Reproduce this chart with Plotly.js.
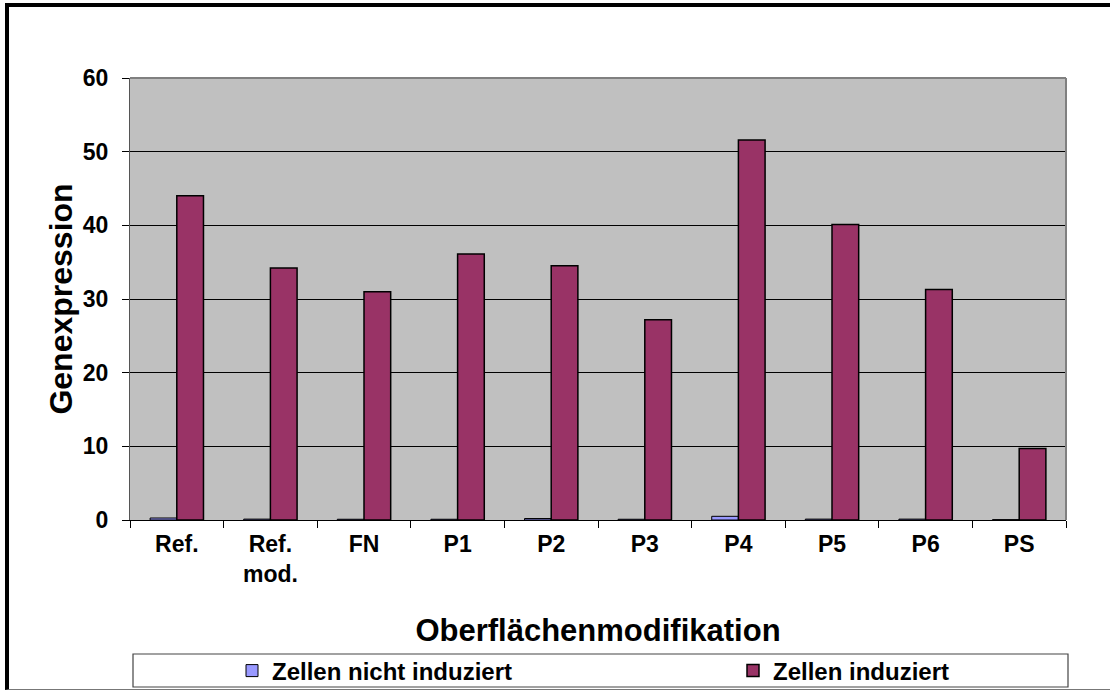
<!DOCTYPE html>
<html>
<head>
<meta charset="utf-8">
<script src="https://cdn.plot.ly/plotly-3.0.1.min.js"></script>
<style>
html,body{margin:0;padding:0;background:#fff;}
#wrap{position:relative;width:1110px;height:691px;overflow:hidden;}
#chart{position:absolute;left:0;top:0;width:1110px;height:691px;}
#frame{position:absolute;left:5px;top:3px;width:1200px;height:687px;border-left:4px solid #000;border-top:4px solid #000;border-bottom:1px solid #777;pointer-events:none;box-sizing:border-box;}
</style>
</head>
<body>
<div id="wrap">
<div id="chart"></div>
<div id="frame"></div>
</div>
<script>
var categories = ["Ref.", "Ref.<br>mod.", "FN", "P1", "P2", "P3", "P4", "P5", "P6", "PS"];
var nichtInduziert = [0.27, 0.12, 0.1, 0.1, 0.2, 0.1, 0.5, 0.12, 0.12, 0.05];
var induziert = [44.0, 34.2, 31.0, 36.1, 34.5, 27.2, 51.6, 40.1, 31.3, 9.7];
var seriesNames = ["Zellen nicht induziert", "Zellen induziert"];
var yTicks = [0, 10, 20, 30, 40, 50, 60];

var FONT = "Liberation Sans, Arial, sans-serif";
var legendFont = {family: FONT, size: 24, color: "#000", weight: "bold"};

var traces = [
  {
    type: "bar", name: seriesNames[0], x: categories, y: nichtInduziert,
    marker: {color: "#9999FF", line: {color: "#000", width: 1}},
    legend: "legend"
  },
  {
    type: "bar", name: seriesNames[1], x: categories, y: induziert,
    marker: {color: "#993366", line: {color: "#000", width: 1.5}},
    legend: "legend2"
  }
];

var legendY = 1 - (671 - 78) / 442;

var layout = {
  width: 1110, height: 691,
  margin: {l: 130, r: 44, t: 78, b: 171, autoexpand: false},
  paper_bgcolor: "#fff",
  plot_bgcolor: "#C0C0C0",
  barmode: "group",
  bargap: 0.43,
  bargroupgap: 0,
  font: {family: FONT, color: "#000"},
  xaxis: {
    type: "category",
    tickson: "boundaries",
    ticks: "outside", ticklen: 7, tickcolor: "#000", tickwidth: 1,
    showline: true, linecolor: "#000", linewidth: 1,
    showgrid: false,
    automargin: false,
    tickfont: {family: FONT, size: 23, color: "#000", weight: "bold"},
    ticklabelstandoff: 3,
    title: {text: "<b>Oberflächenmodifikation</b>", font: {family: FONT, size: 31, color: "#000"}, standoff: 33}
  },
  yaxis: {
    range: [0, 60],
    tickvals: yTicks,
    ticks: "outside", ticklen: 7, tickcolor: "#000", tickwidth: 1,
    showline: true, linecolor: "#555", linewidth: 1,
    gridcolor: "#000", gridwidth: 1,
    zeroline: false,
    automargin: false,
    tickfont: {family: FONT, size: 23, color: "#000", weight: "bold"},
    ticklabelstandoff: 9,
    title: {text: "<b>Genexpression</b>", font: {family: FONT, size: 32, color: "#000"}, standoff: 0}
  },
  showlegend: true,
  legend: {
    orientation: "h",
    x: (232 - 130) / 936, xanchor: "left",
    y: legendY, yanchor: "middle",
    font: legendFont,
    bgcolor: "rgba(0,0,0,0)",
    borderwidth: 0
  },
  legend2: {
    orientation: "h",
    x: (733 - 130) / 936, xanchor: "left",
    y: legendY, yanchor: "middle",
    font: legendFont,
    bgcolor: "rgba(0,0,0,0)",
    borderwidth: 0
  },
  shapes: [
    {type: "line", xref: "paper", yref: "paper", x0: 0, x1: 1, y0: 1, y1: 1, line: {color: "#808080", width: 2}},
    {type: "line", xref: "paper", yref: "paper", x0: 1, x1: 1, y0: 0, y1: 1, line: {color: "#808080", width: 2}},
    {type: "rect", xref: "paper", yref: "paper",
     x0: (133 - 130) / 936, x1: (1068 - 130) / 936,
     y0: 1 - (654 - 78) / 442, y1: 1 - (687 - 78) / 442,
     line: {color: "#444", width: 1.2}, fillcolor: "rgba(0,0,0,0)"}
  ]
};

Plotly.newPlot("chart", traces, layout, {displayModeBar: false, staticPlot: true});
</script>
</body>
</html>
